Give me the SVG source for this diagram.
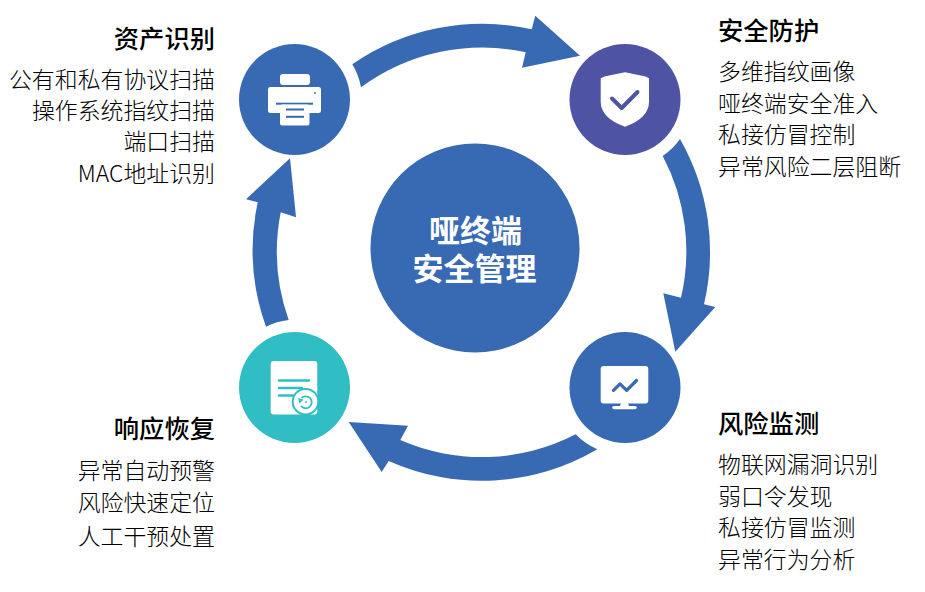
<svg xmlns="http://www.w3.org/2000/svg" width="925" height="592" viewBox="0 0 925 592">
<style>
text{font-family:"Noto Sans CJK SC","Noto Sans",sans-serif;fill:#000}
.t{font-size:25.3px;font-weight:500}
.b{font-size:22.9px;font-weight:300}
.e{text-anchor:end}
.c{font-size:31px;font-weight:700;fill:#fff;text-anchor:middle}
.arrow{fill:#3869B3}
.w{fill:#fff}
.st{fill:none;stroke:#30BDC3;stroke-width:2.4;stroke-linecap:round}
</style>
<rect width="925" height="592" fill="#fff"/>
<g id="connectors">
<path class="arrow" d="M352.3,64.3A228,228 0 0 1 531.7,29.3L535.3,15.7L580,55.7L522,67.7L525.7,52.3A204,204 0 0 0 361,87.3A67.6,67.6 0 0 0 352.3,64.3Z"/>
<path class="arrow" d="M680,139A228,228 0 0 1 704,304.3L715.3,307L675.3,351.7L663.3,293.3L681,297.7A204,204 0 0 0 662.7,156A67.7,67.7 0 0 0 680,139Z"/>
<path class="arrow" d="M597.3,449.3A228,228 0 0 1 388.7,461L381.7,472L348.7,422L408,425.7L400.3,440A204,204 0 0 0 575.7,434.3A67.7,67.7 0 0 0 597.3,449.3Z"/>
<path class="arrow" d="M266,326.7A228,228 0 0 1 257.7,202.3L246,199.3L290,158.3L296,217.3L280.7,212.3A204,204 0 0 0 288.7,320A67.7,67.7 0 0 0 266,326.7Z"/>
</g>
<g id="center">
<circle cx="475" cy="248" r="104.5" fill="#3869B3"/>
<text class="c"><tspan x="475.5" y="242">哑终端</tspan><tspan x="474.5" y="280">安全管理</tspan></text>
</g>
<g id="asset">
<circle cx="294.5" cy="99.5" r="55.5" fill="#3869B3"/>
<rect class="w" x="280" y="74" width="30" height="11" rx="3"/>
<rect class="w" x="268" y="87" width="53" height="26" rx="2.5"/>
<rect x="276" y="102.7" width="37" height="2" fill="#3869B3"/>
<rect class="w" x="280" y="104.5" width="29.5" height="21" rx="2"/>
<rect x="286" y="108.5" width="18" height="2" fill="#3869B3"/>
<rect x="286" y="115.8" width="18" height="2" fill="#3869B3"/>
<circle cx="315" cy="93" r="0.9" fill="#3869B3"/>
<text class="t e" x="215" y="48">资产识别</text>
<text class="b e" x="215" y="88">公有和私有协议扫描</text>
<text class="b e" x="215" y="119">操作系统指纹扫描</text>
<text class="b e" x="215" y="150">端口扫描</text>
<text class="b e" x="215" y="182">MAC地址识别</text>
</g>
<g id="protect">
<circle cx="625" cy="99.5" r="55.5" fill="#4F53A3"/>
<path class="w" d="M625,72.3L641,75.5Q646,76.3 649,78.3V101.7Q649,118 625,126.7Q600.7,118 600.7,101.7V78.3Q604,76.3 609,75.5Z"/>
<path d="M612,98.5L621.7,108L637.5,92" fill="none" stroke="#4F53A3" stroke-width="4" stroke-linecap="round" stroke-linejoin="round"/>
<text class="t" x="718" y="40">安全防护</text>
<text class="b" x="718" y="80">多维指纹画像</text>
<text class="b" x="718" y="112">哑终端安全准入</text>
<text class="b" x="718" y="143">私接仿冒控制</text>
<text class="b" x="718" y="175">异常风险二层阻断</text>
</g>
<g id="monitor">
<circle cx="625" cy="387.5" r="55.5" fill="#3869B3"/>
<rect class="w" x="600.7" y="366" width="47.6" height="37.5" rx="3"/>
<path class="w" d="M621,403L620,406H629L628,403Z"/>
<rect class="w" x="612.3" y="406" width="24.4" height="3.2" rx="1.6"/>
<path d="M613.5,390.3L620,383.9L626.7,390.3L636.5,380.5" fill="none" stroke="#3869B3" stroke-width="3.2" stroke-linecap="round" stroke-linejoin="round"/>
<text class="t" x="718" y="433">风险监测</text>
<text class="b" x="718" y="473">物联网漏洞识别</text>
<text class="b" x="718" y="505">弱口令发现</text>
<text class="b" x="718" y="536">私接仿冒监测</text>
<text class="b" x="718" y="568">异常行为分析</text>
</g>
<g id="response">
<circle cx="294.5" cy="387.5" r="55.5" fill="#30BDC3"/>
<rect class="w" x="270.7" y="361" width="46.6" height="53.5" rx="3"/>
<path class="st" d="M279,380.5H309M279,388H302M279,395.5H294"/>
<circle cx="305.5" cy="401.7" r="13.8" fill="#30BDC3"/>
<circle cx="305.5" cy="401.7" r="11.8" fill="#fff"/>
<path d="M301.5,398A6,6 0 1 1 301,406" fill="none" stroke="#30BDC3" stroke-width="1.8"/>
<path d="M298,398L303.5,399.5L299.5,403.5Z" fill="#30BDC3"/>
<circle cx="306" cy="402" r="1" fill="#30BDC3"/>
<text class="t e" x="215" y="438">响应恢复</text>
<text class="b e" x="215" y="479">异常自动预警</text>
<text class="b e" x="215" y="511">风险快速定位</text>
<text class="b e" x="215" y="545">人工干预处置</text>
</g>
</svg>
